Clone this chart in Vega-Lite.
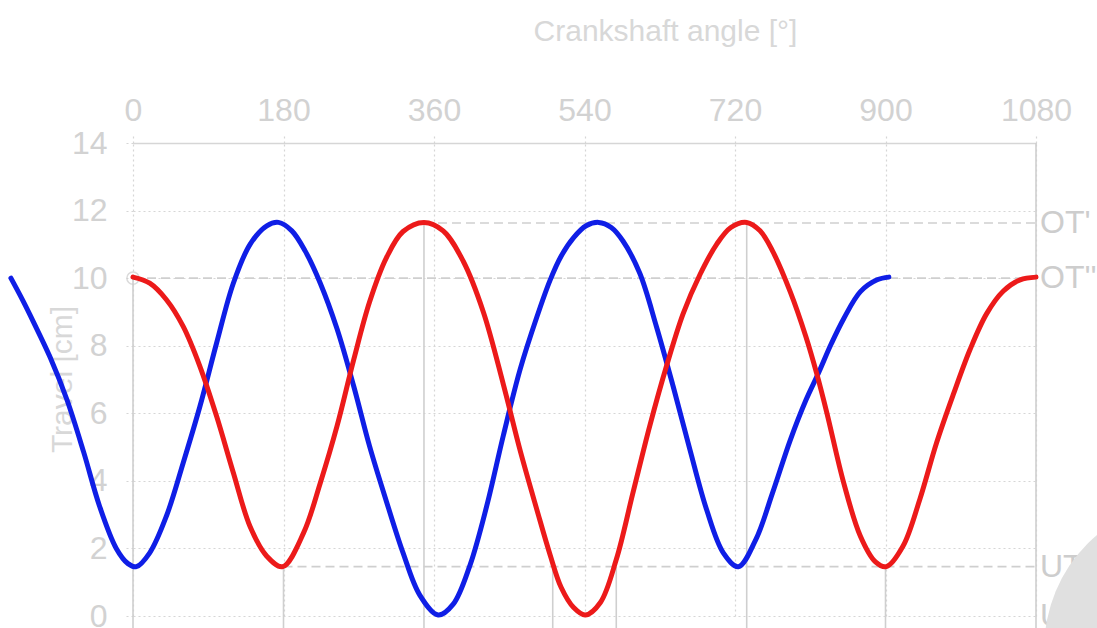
{
  "$schema": "https://vega.github.io/schema/vega-lite/v6.json",
  "width": 903,
  "height": 473,
  "autosize": {"type": "none"},
  "padding": {"left": 133, "top": 143, "right": 61, "bottom": 12},
  "background": "white",
  "config": {
    "view": {"stroke": null},
    "font": "Liberation Sans Narrow, Liberation Sans, Arial, sans-serif",
    "axis": {
      "labelFont": "Liberation Sans Narrow, Liberation Sans, Arial, sans-serif",
      "titleFont": "Liberation Sans Narrow, Liberation Sans, Arial, sans-serif",
      "labelFontSize": 32,
      "titleFontSize": 30,
      "titleFontWeight": "normal",
      "labelColor": "#d2d2d2",
      "titleColor": "#d8d8d8",
      "gridColor": "#d6d6d6",
      "gridDash": [2, 3],
      "gridWidth": 1.2,
      "tickColor": "#d6d6d6",
      "tickDash": [2, 3],
      "tickSize": 10,
      "tickWidth": 1.2,
      "labelFlush": false
    }
  },
  "datasets": {
    "curves": [
      {"angle": -146, "travel": 10.0, "series": "blue"},
      {"angle": -132, "travel": 9.35, "series": "blue"},
      {"angle": -119, "travel": 8.7, "series": "blue"},
      {"angle": -99, "travel": 7.65, "series": "blue"},
      {"angle": -79, "travel": 6.4, "series": "blue"},
      {"angle": -59, "travel": 4.85, "series": "blue"},
      {"angle": -40, "travel": 3.25, "series": "blue"},
      {"angle": -20, "travel": 2.0, "series": "blue"},
      {"angle": -6, "travel": 1.55, "series": "blue"},
      {"angle": 4, "travel": 1.46, "series": "blue"},
      {"angle": 20, "travel": 1.87, "series": "blue"},
      {"angle": 40, "travel": 2.96, "series": "blue"},
      {"angle": 60, "travel": 4.53, "series": "blue"},
      {"angle": 80, "travel": 6.2, "series": "blue"},
      {"angle": 100, "travel": 8.08, "series": "blue"},
      {"angle": 120, "travel": 9.85, "series": "blue"},
      {"angle": 140, "travel": 11.0, "series": "blue"},
      {"angle": 160, "travel": 11.55, "series": "blue"},
      {"angle": 174, "travel": 11.65, "series": "blue"},
      {"angle": 190, "travel": 11.4, "series": "blue"},
      {"angle": 206, "travel": 10.8, "series": "blue"},
      {"angle": 224, "travel": 9.85, "series": "blue"},
      {"angle": 244, "travel": 8.5, "series": "blue"},
      {"angle": 264, "travel": 6.8, "series": "blue"},
      {"angle": 283, "travel": 5.02, "series": "blue"},
      {"angle": 303, "travel": 3.4, "series": "blue"},
      {"angle": 323, "travel": 1.87, "series": "blue"},
      {"angle": 343, "travel": 0.62, "series": "blue"},
      {"angle": 365, "travel": 0.03, "series": "blue"},
      {"angle": 383, "travel": 0.35, "series": "blue"},
      {"angle": 403, "travel": 1.5, "series": "blue"},
      {"angle": 423, "travel": 3.25, "series": "blue"},
      {"angle": 443, "travel": 5.35, "series": "blue"},
      {"angle": 463, "travel": 7.3, "series": "blue"},
      {"angle": 483, "travel": 8.85, "series": "blue"},
      {"angle": 499, "travel": 9.95, "series": "blue"},
      {"angle": 512, "travel": 10.65, "series": "blue"},
      {"angle": 527, "travel": 11.2, "series": "blue"},
      {"angle": 542, "travel": 11.55, "series": "blue"},
      {"angle": 557, "travel": 11.65, "series": "blue"},
      {"angle": 572, "travel": 11.5, "series": "blue"},
      {"angle": 586, "travel": 11.1, "series": "blue"},
      {"angle": 606, "travel": 10.15, "series": "blue"},
      {"angle": 626, "travel": 8.57, "series": "blue"},
      {"angle": 646, "travel": 6.8, "series": "blue"},
      {"angle": 666, "travel": 4.93, "series": "blue"},
      {"angle": 686, "travel": 3.15, "series": "blue"},
      {"angle": 706, "travel": 1.87, "series": "blue"},
      {"angle": 724, "travel": 1.46, "series": "blue"},
      {"angle": 745, "travel": 2.27, "series": "blue"},
      {"angle": 765, "travel": 3.65, "series": "blue"},
      {"angle": 786, "travel": 5.2, "series": "blue"},
      {"angle": 805, "travel": 6.4, "series": "blue"},
      {"angle": 820, "travel": 7.2, "series": "blue"},
      {"angle": 835, "travel": 8.05, "series": "blue"},
      {"angle": 850, "travel": 8.8, "series": "blue"},
      {"angle": 870, "travel": 9.6, "series": "blue"},
      {"angle": 890, "travel": 9.95, "series": "blue"},
      {"angle": 904, "travel": 10.03, "series": "blue"},
      {"angle": 0, "travel": 10.03, "series": "red"},
      {"angle": 20, "travel": 9.85, "series": "red"},
      {"angle": 40, "travel": 9.36, "series": "red"},
      {"angle": 60, "travel": 8.57, "series": "red"},
      {"angle": 80, "travel": 7.39, "series": "red"},
      {"angle": 100, "travel": 5.91, "series": "red"},
      {"angle": 120, "travel": 4.24, "series": "red"},
      {"angle": 140, "travel": 2.65, "series": "red"},
      {"angle": 160, "travel": 1.77, "series": "red"},
      {"angle": 179, "travel": 1.46, "series": "red"},
      {"angle": 204, "travel": 2.46, "series": "red"},
      {"angle": 224, "travel": 3.94, "series": "red"},
      {"angle": 244, "travel": 5.62, "series": "red"},
      {"angle": 264, "travel": 7.59, "series": "red"},
      {"angle": 283, "travel": 9.3, "series": "red"},
      {"angle": 303, "travel": 10.6, "series": "red"},
      {"angle": 323, "travel": 11.38, "series": "red"},
      {"angle": 348, "travel": 11.65, "series": "red"},
      {"angle": 371, "travel": 11.4, "series": "red"},
      {"angle": 395, "travel": 10.5, "series": "red"},
      {"angle": 419, "travel": 9.0, "series": "red"},
      {"angle": 443, "travel": 6.85, "series": "red"},
      {"angle": 463, "travel": 4.9, "series": "red"},
      {"angle": 483, "travel": 3.15, "series": "red"},
      {"angle": 499, "travel": 1.8, "series": "red"},
      {"angle": 512, "travel": 0.85, "series": "red"},
      {"angle": 527, "travel": 0.25, "series": "red"},
      {"angle": 541, "travel": 0.03, "series": "red"},
      {"angle": 559, "travel": 0.4, "series": "red"},
      {"angle": 578, "travel": 1.67, "series": "red"},
      {"angle": 598, "travel": 3.65, "series": "red"},
      {"angle": 618, "travel": 5.62, "series": "red"},
      {"angle": 638, "travel": 7.39, "series": "red"},
      {"angle": 658, "travel": 8.95, "series": "red"},
      {"angle": 678, "travel": 10.1, "series": "red"},
      {"angle": 698, "travel": 11.0, "series": "red"},
      {"angle": 715, "travel": 11.5, "series": "red"},
      {"angle": 734, "travel": 11.65, "series": "red"},
      {"angle": 750, "travel": 11.4, "series": "red"},
      {"angle": 765, "travel": 10.8, "series": "red"},
      {"angle": 786, "travel": 9.6, "series": "red"},
      {"angle": 805, "travel": 8.25, "series": "red"},
      {"angle": 818, "travel": 7.15, "series": "red"},
      {"angle": 830, "travel": 6.0, "series": "red"},
      {"angle": 850, "travel": 3.94, "series": "red"},
      {"angle": 870, "travel": 2.36, "series": "red"},
      {"angle": 888, "travel": 1.6, "series": "red"},
      {"angle": 901, "travel": 1.46, "series": "red"},
      {"angle": 921, "travel": 2.07, "series": "red"},
      {"angle": 941, "travel": 3.45, "series": "red"},
      {"angle": 961, "travel": 5.12, "series": "red"},
      {"angle": 981, "travel": 6.55, "series": "red"},
      {"angle": 1001, "travel": 7.88, "series": "red"},
      {"angle": 1021, "travel": 8.95, "series": "red"},
      {"angle": 1041, "travel": 9.62, "series": "red"},
      {"angle": 1061, "travel": 9.95, "series": "red"},
      {"angle": 1080, "travel": 10.03, "series": "red"}
    ],
    "drops": [
      {"angle": 0, "top": 10, "bottom": -0.6},
      {"angle": 180, "top": 1.46, "bottom": -0.6},
      {"angle": 348, "top": 11.65, "bottom": -0.6},
      {"angle": 502, "top": 1.46, "bottom": -0.6},
      {"angle": 578, "top": 1.46, "bottom": -0.6},
      {"angle": 734, "top": 11.65, "bottom": -0.6},
      {"angle": 900, "top": 1.46, "bottom": -0.6},
      {"angle": 1080, "top": 14, "bottom": -0.6}
    ],
    "refs": [
      {"label": "OT'", "level": 11.63, "from": 348, "to": 1080},
      {"label": "OT''", "level": 10, "from": 0, "to": 1080},
      {"label": "UT", "level": 1.46, "from": 180, "to": 1080}
    ],
    "sidelabels": [
      {"label": "OT'", "level": 11.63},
      {"label": "OT''", "level": 10},
      {"label": "UT", "level": 1.46},
      {"label": "UT''", "level": 0}
    ],
    "origin": [{"angle": 0, "travel": 10}],
    "deco": [{"angle": 1267, "travel": -0.95}]
  },
  "layer": [
    {
      "data": {"name": "curves"},
      "mark": {"type": "line", "opacity": 0},
      "encoding": {
        "x": {
          "field": "angle",
          "type": "quantitative",
          "scale": {"domain": [0, 1080], "nice": false, "zero": false},
          "axis": {
            "orient": "top",
            "values": [0, 180, 360, 540, 720, 900, 1080],
            "format": "d",
            "title": "Crankshaft angle [°]",
            "titleX": 532,
            "titleY": -103,
            "titleAlign": "center",
            "titleBaseline": "alphabetic",
            "labelPadding": 6,
            "domain": true,
            "domainColor": "#d6d6d6",
            "domainWidth": 1.5,
            "grid": true
          }
        },
        "y": {
          "field": "travel",
          "type": "quantitative",
          "scale": {"domain": [0, 14], "nice": false},
          "axis": {
            "values": [0, 2, 4, 6, 8, 10, 12, 14],
            "title": "Travel [cm]",
            "titleX": -62,
            "titleY": 236,
            "titleAngle": 270,
            "titleAlign": "center",
            "titleBaseline": "alphabetic",
            "labelPadding": 16,
            "domain": false,
            "grid": true
          }
        }
      }
    },
    {
      "data": {"name": "drops"},
      "mark": {"type": "rule", "color": "#cfcfcf", "strokeWidth": 1.6},
      "encoding": {
        "x": {"field": "angle", "type": "quantitative"},
        "y": {"field": "top", "type": "quantitative"},
        "y2": {"field": "bottom"}
      }
    },
    {
      "data": {"name": "refs"},
      "mark": {"type": "rule", "color": "#cfcfcf", "strokeWidth": 1.6, "strokeDash": [9, 5]},
      "encoding": {
        "x": {"field": "from", "type": "quantitative"},
        "x2": {"field": "to"},
        "y": {"field": "level", "type": "quantitative"}
      }
    },
    {
      "data": {"name": "sidelabels"},
      "mark": {"type": "text", "align": "left", "baseline": "middle", "dx": 4, "fontSize": 32, "font": "Liberation Sans Narrow, Liberation Sans, Arial, sans-serif", "color": "#cdcdcd"},
      "encoding": {
        "x": {"datum": 1080, "type": "quantitative"},
        "y": {"field": "level", "type": "quantitative"},
        "text": {"field": "label"}
      }
    },
    {
      "data": {"name": "origin"},
      "mark": {"type": "point", "shape": "circle", "filled": false, "size": 150, "color": "#cccccc", "strokeWidth": 1.5},
      "encoding": {
        "x": {"field": "angle", "type": "quantitative"},
        "y": {"field": "travel", "type": "quantitative"}
      }
    },
    {
      "data": {"name": "curves"},
      "mark": {"type": "line", "strokeWidth": 5, "interpolate": "catmull-rom", "strokeCap": "round"},
      "encoding": {
        "x": {"field": "angle", "type": "quantitative"},
        "y": {"field": "travel", "type": "quantitative"},
        "color": {
          "field": "series",
          "type": "nominal",
          "scale": {"domain": ["blue", "red"], "range": ["#0f1ee6", "#ec1a1a"]},
          "legend": null
        }
      }
    },
    {
      "data": {"name": "deco"},
      "mark": {"type": "point", "shape": "circle", "filled": true, "size": 87616, "color": "#e0e0e0", "opacity": 1},
      "encoding": {
        "x": {"field": "angle", "type": "quantitative"},
        "y": {"field": "travel", "type": "quantitative"}
      }
    }
  ]
}
